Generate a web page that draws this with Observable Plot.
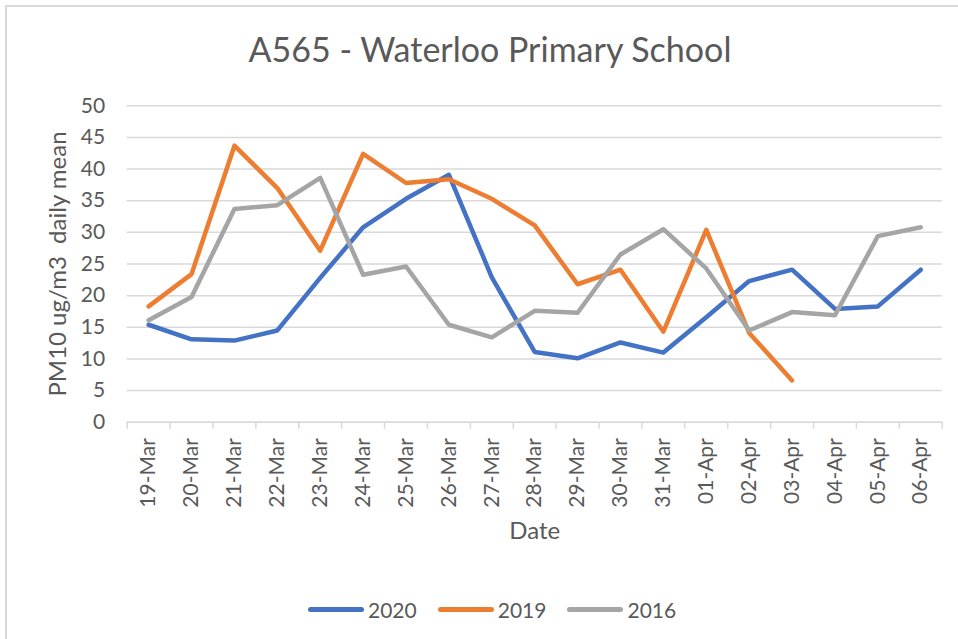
<!DOCTYPE html>
<html>
<head>
<meta charset="utf-8">
<script src="https://cdn.jsdelivr.net/npm/d3@7"></script>
<script src="https://cdn.jsdelivr.net/npm/@observablehq/plot@0.6"></script>
<style>
  html, body { margin: 0; padding: 0; background: #fff; }
  body { width: 958px; height: 639px; overflow: hidden; position: relative; font-family: Lato, "Open Sans", sans-serif; color: #595959; }
  #frame { position: absolute; left: 5px; top: 5px; width: 1000px; height: 700px; border-left: 2px solid #d9d9d9; border-top: 2px solid #d9d9d9; }
  #title { position: absolute; left: 0; width: 980px; top: 29px; text-align: center; font-size: 34px; line-height: 40px; white-space: nowrap; }
  #chart { position: absolute; left: 0; top: 0; }
  #legend { position: absolute; left: 308px; top: 594px; height: 30px; display: flex; align-items: center; font-size: 21px; }
  .item { display: flex; align-items: center; margin-right: 21px; }
  .swatch { width: 56px; height: 5px; border-radius: 3px; margin-right: 4px; }
</style>
</head>
<body>
<div id="frame"></div>
<div id="title">A565 - Waterloo Primary School</div>
<div id="chart"></div>
<div id="legend"></div>
<script>
// Daily mean PM10 at the A565 Waterloo Primary School site
const dates = ["19-Mar", "20-Mar", "21-Mar", "22-Mar", "23-Mar", "24-Mar", "25-Mar", "26-Mar", "27-Mar",
  "28-Mar", "29-Mar", "30-Mar", "31-Mar", "01-Apr", "02-Apr", "03-Apr", "04-Apr", "05-Apr", "06-Apr"];
const pm2020 = [15.4, 13.1, 12.9, 14.5, 22.8, 30.8, 35.3, 39.1, 22.9, 11.1, 10.1, 12.6, 11.0, 16.6, 22.3, 24.1, 17.9, 18.3, 24.1];
const pm2019 = [18.3, 23.4, 43.7, 37.0, 27.1, 42.4, 37.8, 38.4, 35.3, 31.1, 21.8, 24.1, 14.3, 30.4, 14.1, 6.6, null, null, null];
const pm2016 = [16.1, 19.8, 33.7, 34.3, 38.6, 23.3, 24.6, 15.4, 13.4, 17.6, 17.3, 26.5, 30.5, 24.3, 14.5, 17.4, 16.9, 29.4, 30.8];
const years = ["2020", "2019", "2016"];
const colors = ["#4472C4", "#ED7D31", "#A5A5A5"];
const yTicks = [0, 5, 10, 15, 20, 25, 30, 35, 40, 45, 50];
const yLabel = "PM10 ug/m3  daily mean";
const xLabel = "Date";

const series = [pm2020, pm2019, pm2016];
const rows = years.flatMap((year, k) =>
  dates.map((date, i) => ({year, i, date, value: series[k][i]})));

const idx = dates.map((d, i) => i);
const boundaries = dates.map((d, i) => i - 0.5).concat([dates.length - 0.5]);
const grey = "#d9d9d9";
const ink = "#595959";

const chart = Plot.plot({
  width: 958,
  height: 560,
  marginTop: 105.3,
  marginBottom: 138.3,
  marginLeft: 126.7,
  marginRight: 16.3,
  style: {fontFamily: "Lato, 'Open Sans', sans-serif", background: "transparent"},
  x: {type: "linear", domain: [-0.5, dates.length - 0.5]},
  y: {domain: [0, 50]},
  color: {domain: years, range: colors},
  marks: [
    Plot.gridY(yTicks, {stroke: grey, strokeOpacity: 1, strokeWidth: 1.5}),
    Plot.ruleY([0], {stroke: grey, strokeWidth: 1.5}),
    Plot.axisY(yTicks, {tickSize: 0, tickPadding: 22, fontSize: 21, fill: ink, label: null}),
    Plot.axisX(boundaries, {tickSize: 7, stroke: grey, strokeWidth: 1.5, tickFormat: () => "", label: null}),
    Plot.axisX(idx, {tickSize: 0, tickPadding: 16, tickRotate: -90, fontSize: 21, fill: ink,
      tickFormat: (i) => dates[i], label: null}),
    Plot.text([yLabel], {frameAnchor: "left", textAnchor: "middle", lineAnchor: "middle",
      rotate: -90, dx: -69, fontSize: 24, fill: ink}),
    Plot.text([xLabel], {frameAnchor: "bottom", textAnchor: "middle", lineAnchor: "middle",
      dy: 109, fontSize: 24, fill: ink}),
    Plot.line(rows, {x: "i", y: "value", z: "year", stroke: "year", strokeWidth: 4.5,
      strokeLinejoin: "round", strokeLinecap: "round"})
  ]
});
document.getElementById("chart").appendChild(chart);

// Legend below the plot
const legend = d3.select("#legend");
years.forEach((year, k) => {
  const item = legend.append("div").attr("class", "item");
  item.append("div").attr("class", "swatch").style("background", colors[k]);
  item.append("span").text(year);
});
</script>
</body>
</html>
